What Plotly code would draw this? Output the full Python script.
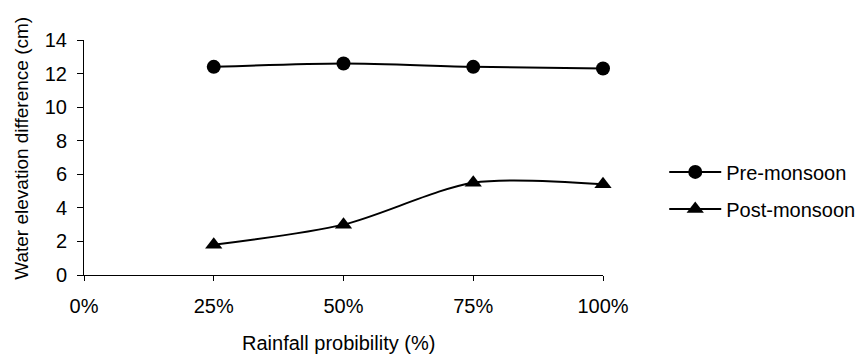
import plotly.graph_objects as go

# Rainfall probability categories (%)
probability = [25, 50, 75, 100]
tick_vals = [0, 25, 50, 75, 100]
tick_text = ['0%', '25%', '50%', '75%', '100%']

# Water elevation difference (cm)
pre_monsoon = [12.4, 12.6, 12.4, 12.3]
post_monsoon = [1.8, 3.0, 5.5, 5.4]

font_name = 'Liberation Sans, Arial, sans-serif'

fig = go.Figure()

fig.add_trace(go.Scatter(
    x=probability, y=pre_monsoon,
    mode='lines+markers', name='Pre-monsoon',
    line=dict(color='black', width=2, shape='spline', smoothing=0.8),
    marker=dict(symbol='circle', size=14, color='black'),
    legendgroup='a', cliponaxis=False
))

fig.add_trace(go.Scatter(
    x=probability, y=post_monsoon,
    mode='lines+markers', name='Post-monsoon',
    line=dict(color='black', width=2, shape='spline', smoothing=0.8),
    marker=dict(symbol='triangle-up', size=15, color='black'),
    legendgroup='b', cliponaxis=False
))

# the page body has an 8px margin, so the plot area is shifted by 8px
fig.update_layout(
    width=864, height=353,
    margin=dict(l=76, r=262, t=32, b=86),
    paper_bgcolor='white', plot_bgcolor='white',
    font=dict(family=font_name, size=20, color='black'),
    legend=dict(
        x=1.118, y=0.36, xanchor='left', yanchor='middle',
        font=dict(size=20), tracegroupgap=8, itemwidth=52,
        bgcolor='rgba(0,0,0,0)'
    ),
    annotations=[
        dict(text='Water elevation difference (cm)', textangle=-90,
             xref='paper', yref='paper', x=-0.122, y=0.54,
             xanchor='center', yanchor='middle', showarrow=False,
             font=dict(size=19)),
        dict(text='Rainfall probibility (%)',
             xref='paper', yref='paper', x=0.49, y=-0.29,
             xanchor='center', yanchor='middle', showarrow=False,
             font=dict(size=20)),
    ]
)

fig.update_xaxes(
    range=[0, 100], tickvals=tick_vals, ticktext=tick_text,
    showline=True, linecolor='black', linewidth=1,
    ticks='outside', ticklen=5, tickcolor='black',
    showgrid=False, zeroline=False, ticklabelstandoff=8
)

fig.update_yaxes(
    range=[0, 14], dtick=2,
    showline=True, linecolor='black', linewidth=1,
    ticks='outside', ticklen=6, tickcolor='black',
    showgrid=False, zeroline=False, ticklabelstandoff=6
)

fig.write_html('out.html')
